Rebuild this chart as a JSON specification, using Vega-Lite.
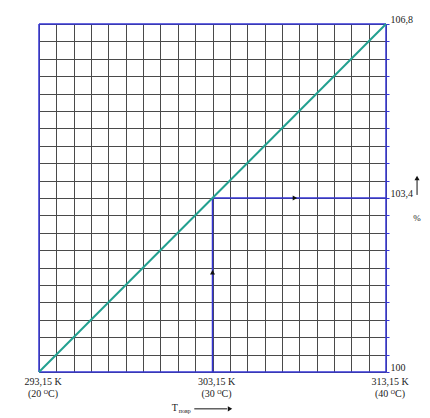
{
  "$schema": "https://vega.github.io/schema/vega-lite/v6.json",
  "width": 347,
  "height": 348,
  "autosize": "none",
  "padding": {"left": 39, "top": 24, "right": 44, "bottom": 46},
  "background": "white",
  "config": {
    "view": {"stroke": null},
    "font": "Liberation Serif",
    "text": {"font": "Liberation Serif", "fontSize": 10, "color": "#222"}
  },
  "datasets": {
    "frame": [
      {"x": 293.15, "y": 100, "x2": 293.15, "y2": 106.8},
      {"x": 313.15, "y": 100, "x2": 313.15, "y2": 106.8},
      {"x": 293.15, "y": 100, "x2": 313.15, "y2": 100},
      {"x": 293.15, "y": 106.8, "x2": 313.15, "y2": 106.8},
      {"x": 303.15, "y": 100, "x2": 303.15, "y2": 103.4},
      {"x": 303.15, "y": 103.4, "x2": 313.15, "y2": 103.4}
    ],
    "curve": [
      {"t": 293.15, "p": 100},
      {"t": 313.15, "p": 106.8}
    ],
    "arrows": [
      {"x": 307.9, "y": 103.4, "shape": "triangle-right"},
      {"x": 303.15, "y": 101.95, "shape": "triangle-up"},
      {"x": 314.94, "y": 103.79, "shape": "triangle-up"},
      {"x": 304.16, "y": 99.28, "shape": "triangle-right"}
    ],
    "pointers": [
      {"x": 314.94, "y": 103.46, "x2": 314.94, "y2": 103.75},
      {"x": 302.1, "y": 99.28, "x2": 304.0, "y2": 99.28}
    ],
    "xlabels": [
      {"x": 293.15, "label": "293,15 K\n(20 ᴼC)"},
      {"x": 303.15, "label": "303,15 K\n(30 ᴼC)"},
      {"x": 313.15, "label": "313,15 K\n(40 ᴼC)"}
    ]
  },
  "layer": [
    {
      "data": {"name": "frame"},
      "mark": {"type": "rule", "color": "#3535d6", "strokeWidth": 1.5},
      "encoding": {
        "x": {
          "field": "x",
          "type": "quantitative",
          "scale": {"domain": [293.15, 313.15], "nice": false, "zero": false},
          "axis": {
            "values": [293.15, 294.15, 295.15, 296.15, 297.15, 298.15, 299.15, 300.15, 301.15, 302.15, 303.15, 304.15, 305.15, 306.15, 307.15, 308.15, 309.15, 310.15, 311.15, 312.15, 313.15],
            "tickCount": 21,
            "title": null,
            "labels": false,
            "ticks": false,
            "domain": false,
            "grid": true,
            "gridColor": "#4a4a4a",
            "gridOpacity": 1,
            "gridWidth": 1
          }
        },
        "x2": {"field": "x2"},
        "y": {
          "field": "y",
          "type": "quantitative",
          "scale": {"domain": [100, 106.8], "nice": false, "zero": false},
          "axis": {
            "orient": "right",
            "values": [100, 100.34, 100.68, 101.02, 101.36, 101.7, 102.04, 102.38, 102.72, 103.06, 103.4, 103.74, 104.08, 104.42, 104.76, 105.1, 105.44, 105.78, 106.12, 106.46, 106.8],
            "tickCount": 21,
            "title": null,
            "domain": false,
            "grid": true,
            "gridColor": "#4a4a4a",
            "gridOpacity": 1,
            "gridWidth": 1,
            "ticks": true,
            "tickSize": 3,
            "tickColor": "#3535d6",
            "labelExpr": "datum.value == 100 ? '100' : datum.value == 103.4 ? '103,4' : datum.value == 106.8 ? '106,8' : ''",
            "labelFont": "Liberation Serif",
            "labelFontSize": 10,
            "labelColor": "#222",
            "labelBaseline": "bottom",
            "labelFlush": false,
            "labelPadding": 1,
            "labelOverlap": false
          }
        },
        "y2": {"field": "y2"}
      }
    },
    {
      "data": {"name": "curve"},
      "mark": {"type": "line", "color": "#22a090", "strokeWidth": 2},
      "encoding": {
        "x": {"field": "t", "type": "quantitative"},
        "y": {"field": "p", "type": "quantitative"}
      }
    },
    {
      "data": {"name": "pointers"},
      "mark": {"type": "rule", "color": "#111", "strokeWidth": 1},
      "encoding": {
        "x": {"field": "x", "type": "quantitative"},
        "x2": {"field": "x2"},
        "y": {"field": "y", "type": "quantitative"},
        "y2": {"field": "y2"}
      }
    },
    {
      "data": {"name": "arrows"},
      "mark": {"type": "point", "filled": true, "color": "#111", "size": 26, "opacity": 1},
      "encoding": {
        "x": {"field": "x", "type": "quantitative"},
        "y": {"field": "y", "type": "quantitative"},
        "shape": {"field": "shape", "type": "nominal", "scale": null, "legend": null}
      }
    },
    {
      "data": {"name": "xlabels"},
      "mark": {"type": "text", "color": "#222", "baseline": "top", "dy": 5, "dx": 4, "lineBreak": "\n", "lineHeight": 12},
      "encoding": {
        "x": {"field": "x", "type": "quantitative"},
        "y": {"datum": 100, "type": "quantitative"},
        "text": {"field": "label"}
      }
    },
    {
      "data": {"values": [{"x": 314.94, "y": 103.0, "t": "%"}]},
      "mark": {"type": "text", "color": "#222", "baseline": "middle", "fontSize": 9},
      "encoding": {
        "x": {"field": "x", "type": "quantitative"},
        "y": {"field": "y", "type": "quantitative"},
        "text": {"field": "t"}
      }
    },
    {
      "data": {"values": [{"x": 300.98, "y": 99.29, "t": "T"}]},
      "mark": {"type": "text", "color": "#222", "baseline": "middle", "fontSize": 10},
      "encoding": {
        "x": {"field": "x", "type": "quantitative"},
        "y": {"field": "y", "type": "quantitative"},
        "text": {"field": "t"}
      }
    },
    {
      "data": {"values": [{"x": 301.2, "y": 99.23, "t": "повр"}]},
      "mark": {"type": "text", "color": "#222", "baseline": "middle", "align": "left", "fontSize": 6},
      "encoding": {
        "x": {"field": "x", "type": "quantitative"},
        "y": {"field": "y", "type": "quantitative"},
        "text": {"field": "t"}
      }
    }
  ]
}
